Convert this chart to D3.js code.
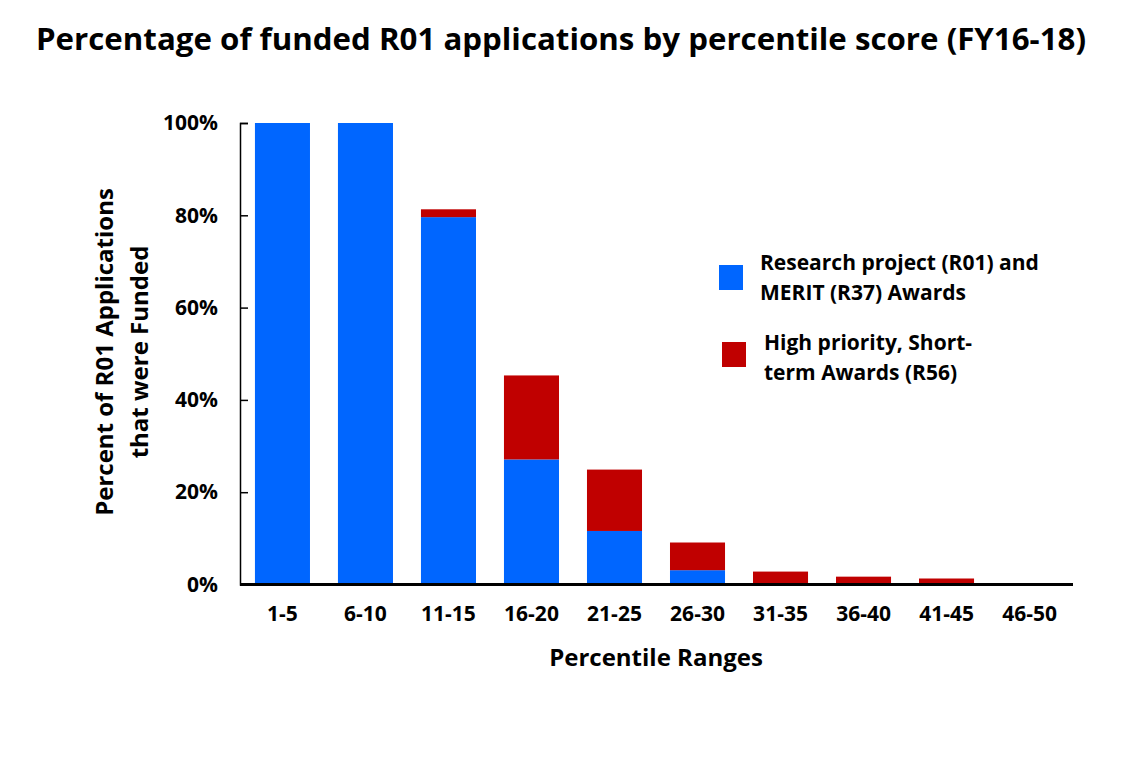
<!DOCTYPE html>
<html>
<head>
<meta charset="utf-8">
<script src="https://cdn.jsdelivr.net/npm/d3@7"></script>
<style>
  body { margin: 0; background: #fff; }
  text { font-family: "Open Sans", "Noto Sans", sans-serif; font-weight: bold; fill: #000; }
</style>
</head>
<body>
<div id="chart"></div>
<script>
// percentile ranges on the x axis
var categories = ["1-5", "6-10", "11-15", "16-20", "21-25", "26-30", "31-35", "36-40", "41-45", "46-50"];
// R01 + R37 awards (% of applications funded)
var r01Values = [100, 100, 79.6, 27.1, 11.6, 3.1, 0, 0, 0, 0];
// R56 high priority short-term awards, stacked on top
var r56Values = [0, 0, 1.7, 18.2, 13.3, 6.0, 2.8, 1.7, 1.3, 0];
var yTicks = [0, 20, 40, 60, 80, 100];
var seriesNames = ["Research project (R01) and|MERIT (R37) Awards", "High priority, Short-|term Awards (R56)"];
var seriesColors = ["#0066ff", "#c00000"];

var width = 1125, height = 758;
var margin = {left: 240, right: 53, top: 123, bottom: 174};

var svg = d3.select("#chart").append("svg")
    .attr("width", width)
    .attr("height", height);

var x = d3.scaleBand()
    .domain(categories)
    .range([margin.left, width - margin.right])
    .paddingInner(0.337)
    .paddingOuter(0.18);

var y = d3.scaleLinear()
    .domain([0, 100])
    .range([height - margin.bottom + 0.5, margin.top]);

var rows = categories.map(function(c, i) {
    return {cat: c, r01: r01Values[i], r56: r56Values[i]};
});
var stacked = d3.stack().keys(["r01", "r56"])(rows);

// bars
svg.selectAll(".series")
    .data(stacked)
    .enter().append("g")
    .attr("class", "series")
    .attr("fill", function(d, i) { return seriesColors[i]; })
    .selectAll("rect")
    .data(function(d) { return d; })
    .enter().append("rect")
    .attr("x", function(d) { return x(d.data.cat); })
    .attr("width", x.bandwidth())
    .attr("y", function(d) { return y(d[1]); })
    .attr("height", function(d) { return y(d[0]) - y(d[1]); });

// y axis, ticks point inward
var yAxis = svg.append("g")
    .attr("transform", "translate(" + margin.left + ",0)")
    .call(d3.axisLeft(y).tickValues(yTicks).tickSize(-8).tickPadding(22)
        .tickFormat(function(d) { return d + "%"; }));
yAxis.select(".domain").attr("stroke-width", 1.5);
yAxis.selectAll(".tick line").attr("stroke-width", 1.5);
yAxis.selectAll(".tick text").style("font-size", "21px");

// x axis
var xAxis = svg.append("g")
    .attr("transform", "translate(0," + y(0) + ")")
    .call(d3.axisBottom(x).tickSize(0).tickPadding(22));
xAxis.select(".domain").attr("stroke-width", 3).attr("d", "M" + margin.left + ",0H" + (width - margin.right + 1));
xAxis.selectAll(".tick text").style("font-size", "21px");

// title
svg.append("text")
    .attr("x", 561)
    .attr("y", 50)
    .attr("text-anchor", "middle")
    .attr("textLength", 1050)
    .attr("lengthAdjust", "spacingAndGlyphs")
    .style("font-size", "31px")
    .text("Percentage of funded R01 applications by percentile score (FY16-18)");

// axis titles
svg.append("text")
    .attr("x", 656)
    .attr("y", 666)
    .attr("text-anchor", "middle")
    .style("font-size", "24px")
    .text("Percentile Ranges");

var yTitle = svg.append("text")
    .attr("transform", "translate(113,352) rotate(-90)")
    .attr("text-anchor", "middle")
    .style("font-size", "24px");
yTitle.append("tspan").attr("x", 0).attr("dy", 0).text("Percent of R01 Applications");
yTitle.append("tspan").attr("x", 0).attr("dy", 35).text("that were Funded");

// legend
var legendPos = [{sx: 719, sy: 265, tx: 760, ty: 270}, {sx: 722, sy: 342, tx: 764, ty: 350}];
var legend = svg.selectAll(".legend")
    .data(seriesNames)
    .enter().append("g")
    .attr("class", "legend");
legend.append("rect")
    .attr("x", function(d, i) { return legendPos[i].sx; })
    .attr("y", function(d, i) { return legendPos[i].sy; })
    .attr("width", 24)
    .attr("height", 25)
    .attr("fill", function(d, i) { return seriesColors[i]; });
legend.append("text")
    .style("font-size", "21px")
    .each(function(d, i) {
        var t = d3.select(this);
        d.split("|").forEach(function(line, j) {
            t.append("tspan")
                .attr("x", legendPos[i].tx)
                .attr("y", legendPos[i].ty + j * 30)
                .text(line);
        });
    });
</script>
</body>
</html>
